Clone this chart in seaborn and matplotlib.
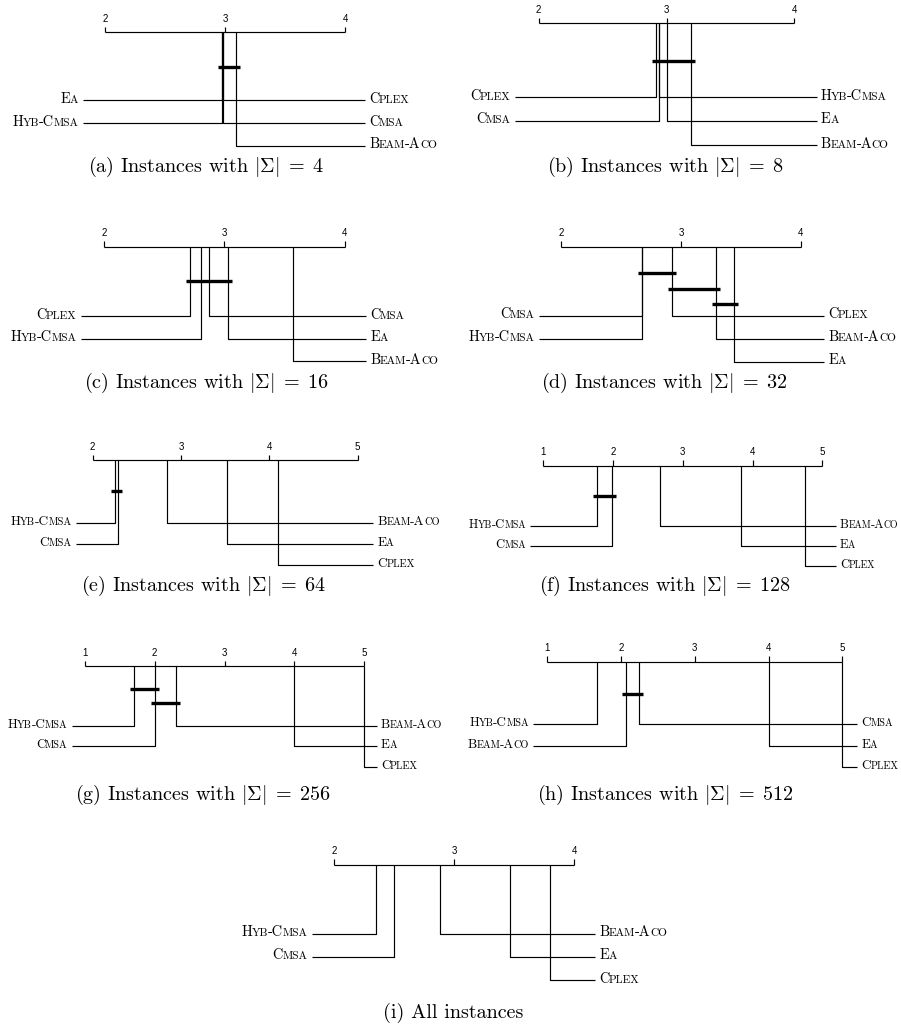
import matplotlib
matplotlib.use("Agg")
import matplotlib.pyplot as plt
import pandas as pd
import seaborn as sns
from matplotlib.offsetbox import TextArea, HPacker, AnnotationBbox

# Algorithms compared in every diagram
ALGORITHMS = ["Cmsa", "Hyb-Cmsa", "Beam-Aco", "Ea", "Cplex"]

# Average ranks, in the order of ALGORITHMS
RANKS_4 = [2.985, 2.975, 3.09, 2.97, 2.98]
RANKS_8 = [2.94, 2.945, 3.19, 3.005, 2.92]
RANKS_16 = [2.875, 2.808, 3.57, 3.03, 2.717]
RANKS_32 = [2.67, 2.675, 3.29, 3.44, 2.925]
RANKS_64 = [2.29, 2.256, 2.838, 3.517, 4.10]
RANKS_128 = [1.98, 1.77, 2.67, 3.83, 4.75]
RANKS_256 = [2.00, 1.70, 2.30, 4.00, 5.00]
RANKS_512 = [2.25, 1.68, 2.07, 4.00, 5.00]
RANKS_ALL = [2.50, 2.35, 2.88, 3.47, 3.80]

# Groups of algorithms without significant difference
CLIQUES_4 = [["Cmsa", "Hyb-Cmsa", "Beam-Aco", "Ea", "Cplex"]]
CLIQUES_8 = [["Cmsa", "Hyb-Cmsa", "Beam-Aco", "Ea", "Cplex"]]
CLIQUES_16 = [["Cplex", "Hyb-Cmsa", "Cmsa", "Ea"]]
CLIQUES_32 = [["Cmsa", "Hyb-Cmsa", "Cplex"], ["Cplex", "Beam-Aco"], ["Beam-Aco", "Ea"]]
CLIQUES_64 = [["Hyb-Cmsa", "Cmsa"]]
CLIQUES_128 = [["Hyb-Cmsa", "Cmsa"]]
CLIQUES_256 = [["Hyb-Cmsa", "Cmsa"], ["Cmsa", "Beam-Aco"]]
CLIQUES_512 = [["Beam-Aco", "Cmsa"]]
CLIQUES_ALL = []

# Rank axis ranges
AXIS_RANGES = [(2, 4), (2, 4), (2, 4), (2, 4), (2, 5), (1, 5), (1, 5), (1, 5), (2, 4)]

CAPTIONS = [
    r"(a) Instances with $|\Sigma| \;=\; 4$",
    r"(b) Instances with $|\Sigma| \;=\; 8$",
    r"(c) Instances with $|\Sigma| \;=\; 16$",
    r"(d) Instances with $|\Sigma| \;=\; 32$",
    r"(e) Instances with $|\Sigma| \;=\; 64$",
    r"(f) Instances with $|\Sigma| \;=\; 128$",
    r"(g) Instances with $|\Sigma| \;=\; 256$",
    r"(h) Instances with $|\Sigma| \;=\; 512$",
    "(i) All instances",
]

PANEL_RANKS = [RANKS_4, RANKS_8, RANKS_16, RANKS_32, RANKS_64,
               RANKS_128, RANKS_256, RANKS_512, RANKS_ALL]
PANEL_CLIQUES = [CLIQUES_4, CLIQUES_8, CLIQUES_16, CLIQUES_32, CLIQUES_64,
                 CLIQUES_128, CLIQUES_256, CLIQUES_512, CLIQUES_ALL]

# Page layout of each diagram, in pixels from the top-left corner
LAYOUT = [
    dict(ticks=(105.3, 345.3), ends=(82.7, 365.0), axis=32.3, rows=(100.0, 123.3, 145.7), bars=(66.7,), cap=(205.5, 167.0), label=10.4),
    dict(ticks=(538.7, 794.3), ends=(515.0, 816.7), axis=23.3, rows=(97.3, 120.7, 145.0), bars=(60.7,), cap=(665.0, 167.0), label=10.4),
    dict(ticks=(104.0, 344.7), ends=(80.7, 366.0), axis=247.0, rows=(316.0, 338.7, 361.3), bars=(281.0,), cap=(206.0, 383.0), label=10.4),
    dict(ticks=(561.3, 801.0), ends=(539.0, 824.0), axis=246.7, rows=(315.7, 338.7, 361.5), bars=(273.3, 289.0, 304.0), cap=(664.0, 383.0), label=10.4),
    dict(ticks=(92.7, 357.7), ends=(76.0, 373.0), axis=460.0, rows=(523.0, 544.0, 565.0), bars=(491.0,), cap=(203.0, 586.0), label=9.6),
    dict(ticks=(543.3, 822.3), ends=(530.0, 835.7), axis=465.7, rows=(526.0, 545.7, 565.7), bars=(496.0,), cap=(665.0, 586.0), label=9.0),
    dict(ticks=(85.0, 364.0), ends=(71.7, 376.7), axis=666.0, rows=(725.7, 745.7, 766.7), bars=(689.3, 702.7), cap=(203.0, 795.0), label=9.4),
    dict(ticks=(547.3, 842.3), ends=(533.3, 857.3), axis=662.0, rows=(724.3, 745.7, 766.7), bars=(693.7,), cap=(665.0, 795.0), label=9.4),
    dict(ticks=(334.0, 574.0), ends=(311.7, 595.0), axis=864.7, rows=(933.7, 956.7, 980.0), bars=(), cap=(453.0, 1012.7), label=10.4),
]

W, H = 901, 1024
SERIF = "cmr10"
SANS = "Liberation Sans"

sns.set_theme(style="white")
plt.rcParams["mathtext.fontset"] = "cm"
plt.rcParams["axes.formatter.use_mathtext"] = True


def small_caps(name, size):
    """Build a small-caps label from upper/lower case runs."""
    runs = []
    for ch in name:
        big = not ch.islower()
        if runs and runs[-1][0] == big:
            runs[-1][1] += ch
        else:
            runs.append([big, ch])
    children = [
        TextArea(txt.upper(), textprops=dict(fontsize=size if big else size * 0.78,
                                             fontfamily=SERIF, color="black"))
        for big, txt in runs
    ]
    return HPacker(children=children, align="baseline", pad=0, sep=-0.3)


def draw_panel(fig, ranks, cliques, rng, lay, caption):
    lo, hi = rng
    tl, tr = lay["ticks"]
    el, er = lay["ends"]
    scale = (tr - tl) / (hi - lo)
    ay = lay["axis"]
    rows = lay["rows"]
    top, bottom = ay - 32, rows[-1] + 10

    ax = fig.add_axes([el / W, 1 - bottom / H, (er - el) / W, (bottom - top) / H])
    x0 = lo - (tl - el) / scale
    x1 = hi + (er - tr) / scale

    order = sorted(zip(ranks, ALGORITHMS))
    n_left = len(order) // 2

    segs = []

    def add(seg, xs, ys):
        for x, y in zip(xs, ys):
            segs.append(dict(seg=seg, x=x, y=y))

    add("axis", [lo, hi], [ay, ay])
    for t in range(lo, hi + 1):
        add(f"tick{t}", [t, t], [ay, ay - 5.5])

    label_pos = []
    for i, (r, name) in enumerate(order):
        if i < n_left:
            ry = rows[i]
            add(name, [r, r, x0], [ay, ry, ry])
            label_pos.append((name, x0, ry, "left"))
        else:
            ry = rows[i - n_left]
            add(name, [r, r, x1], [ay, ry, ry])
            label_pos.append((name, x1, ry, "right"))

    seg_df = pd.DataFrame(segs)
    sns.lineplot(data=seg_df, x="x", y="y", units="seg", estimator=None,
                 sort=False, color="black", linewidth=0.85, ax=ax)

    rank_of = dict(zip(ALGORITHMS, ranks))
    bar_rows = []
    over = 4.0 / scale
    for j, members in enumerate(cliques):
        vals = [rank_of[m] for m in members]
        by = lay["bars"][j]
        bar_rows.append(dict(seg=j, x=min(vals) - over, y=by))
        bar_rows.append(dict(seg=j, x=max(vals) + over, y=by))
    if bar_rows:
        sns.lineplot(data=pd.DataFrame(bar_rows), x="x", y="y", units="seg",
                     estimator=None, sort=False, color="black", linewidth=2.4,
                     ax=ax)

    for ln in ax.lines:
        ln.set_clip_on(False)
        ln.set_solid_capstyle("butt")

    for t in range(lo, hi + 1):
        ax.text(t, ay - 13.5, str(t), ha="center", va="center", fontsize=7,
                fontfamily=SANS, color="black")

    size = lay["label"]
    for name, x, y, side in label_pos:
        box = small_caps(name, size)
        if side == "left":
            ab = AnnotationBbox(box, (x, y), xybox=(-3.0, 0.8), boxcoords="offset points",
                                box_alignment=(1, 0.5), frameon=False, pad=0)
        else:
            ab = AnnotationBbox(box, (x, y), xybox=(3.0, 0.8), boxcoords="offset points",
                                box_alignment=(0, 0.5), frameon=False, pad=0)
        ab.set_clip_on(False)
        ax.add_artist(ab)

    ax.set_xlim(x0, x1)
    ax.set_ylim(bottom, top)
    ax.set_axis_off()

    cx, cy = lay["cap"]
    fig.text(cx / W, 1 - cy / H, caption, ha="center", va="center",
             fontsize=14.5, fontfamily=SERIF, color="black")


fig = plt.figure(figsize=(W / 100, H / 100), dpi=100)
fig.patch.set_facecolor("white")

for k in range(9):
    draw_panel(fig, PANEL_RANKS[k], PANEL_CLIQUES[k], AXIS_RANGES[k], LAYOUT[k], CAPTIONS[k])

fig.savefig("out.png", dpi=100, facecolor="white")
